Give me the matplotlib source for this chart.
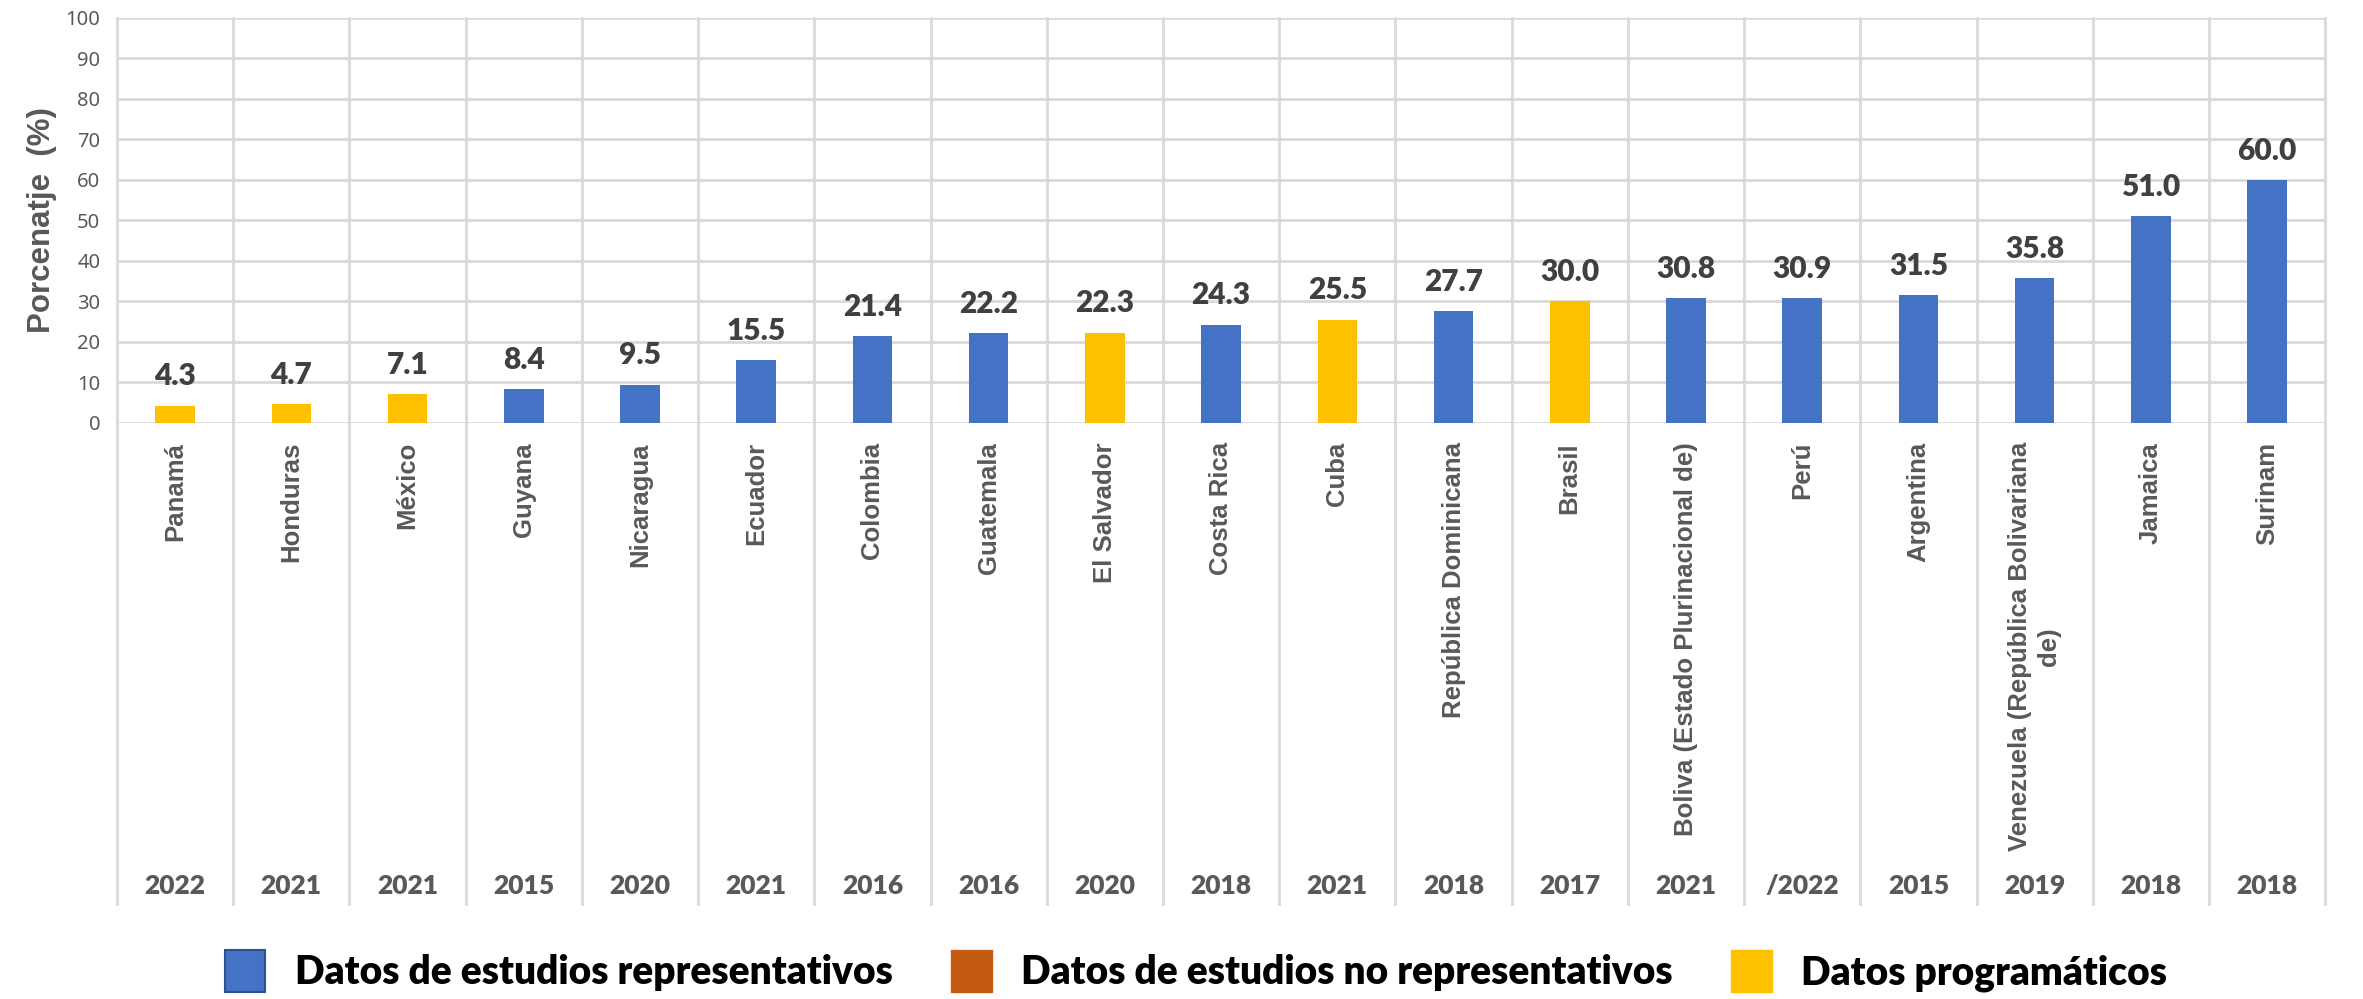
import matplotlib
matplotlib.use('Agg')
import matplotlib.pyplot as plt
from matplotlib.patches import Patch

# data
countries = ['Panamá', 'Honduras', 'México', 'Guyana', 'Nicaragua', 'Ecuador',
             'Colombia', 'Guatemala', 'El Salvador', 'Costa Rica', 'Cuba',
             'República Dominicana', 'Brasil', 'Boliva (Estado Plurinacional de)',
             'Perú', 'Argentina', 'Venezuela (República Bolivariana\nde)',
             'Jamaica', 'Surinam']
years = ['2022', '2021', '2021', '2015', '2020', '2021', '2016', '2016', '2020',
         '2018', '2021', '2018', '2017', '2021', '/2022', '2015', '2019', '2018',
         '2018']
values = [4.3, 4.7, 7.1, 8.4, 9.5, 15.5, 21.4, 22.2, 22.3, 24.3, 25.5, 27.7,
          30.0, 30.8, 30.9, 31.5, 35.8, 51.0, 60.0]
# 'rep' = representative studies, 'prog' = programmatic data
source = ['prog', 'prog', 'prog', 'rep', 'rep', 'rep', 'rep', 'rep', 'prog',
          'rep', 'prog', 'rep', 'prog', 'rep', 'rep', 'rep', 'rep', 'rep', 'rep']

BLUE = '#4472C4'
ORANGE = '#C55A11'
YELLOW = '#FFC000'
GRID = '#D9D9D9'
GREY = '#595959'
colors = {'rep': BLUE, 'prog': YELLOW}

fig = plt.figure(figsize=(23.63, 9.99), dpi=100)
ax = fig.add_axes([0.0495, 0.5766, 0.9345, 0.4054])

x = list(range(len(countries)))
ax.bar(x, values, width=0.34, color=[colors[s] for s in source], zorder=3)

for xi, v in zip(x, values):
    ax.annotate(f'{v:.1f}', (xi, v), xytext=(0, 11), textcoords='offset points',
                ha='center', va='bottom', fontsize=21.5, fontweight='heavy',
                color='#404040', family='Lato')

ax.set_xlim(-0.5, len(countries) - 0.5)
ax.set_ylim(0, 100)
ax.set_yticks(range(0, 101, 10))
ax.tick_params(axis='y', length=0, labelsize=14.5, labelcolor=GREY, pad=12)
for lab in ax.get_yticklabels():
    lab.set_family('Noto Sans')
ax.set_xticks([])
ax.yaxis.grid(True, color=GRID, linewidth=2, zorder=0)
for sp in ax.spines.values():
    sp.set_visible(False)

ax.set_ylabel('Porcenatje  (%)', fontsize=22.5, fontweight='bold', color=GREY,
              family='Liberation Sans', labelpad=6)

# category separators running down through the label area
trans = ax.get_xaxis_transform()
for b in range(len(countries) + 1):
    ax.plot([b - 0.5, b - 0.5], [-1.188, 1], transform=trans, color=GRID,
            linewidth=2, clip_on=False, zorder=1)

for xi, name, yr in zip(x, countries, years):
    ax.text(xi, -0.047, name, transform=trans, rotation=90, ha='center', va='top',
            multialignment='center', fontsize=18.5, fontweight='bold',
            color=GREY, family='Liberation Sans', linespacing=1.25)
    ax.text(xi, -1.143, yr, transform=trans, ha='center', va='center',
            fontsize=19, fontweight='heavy', color=GREY, family='Lato')

handles = [Patch(facecolor=BLUE, edgecolor='#2F528F', linewidth=1.5),
           Patch(facecolor=ORANGE, edgecolor=ORANGE),
           Patch(facecolor=YELLOW, edgecolor=YELLOW)]
labels = ['Datos de estudios representativos', 'Datos de estudios no representativos',
          'Datos programáticos']
leg = fig.legend(handles, labels, loc='center', bbox_to_anchor=(0.506, 0.028), ncol=3,
                 frameon=False, prop={'family': 'Lato', 'weight': 'heavy', 'size': 28},
                 handlelength=1.05, handleheight=1.3, handletextpad=0.75,
                 columnspacing=1.5)
for t in leg.get_texts():
    t.set_color('black')

fig.savefig('out.png', dpi=100)
